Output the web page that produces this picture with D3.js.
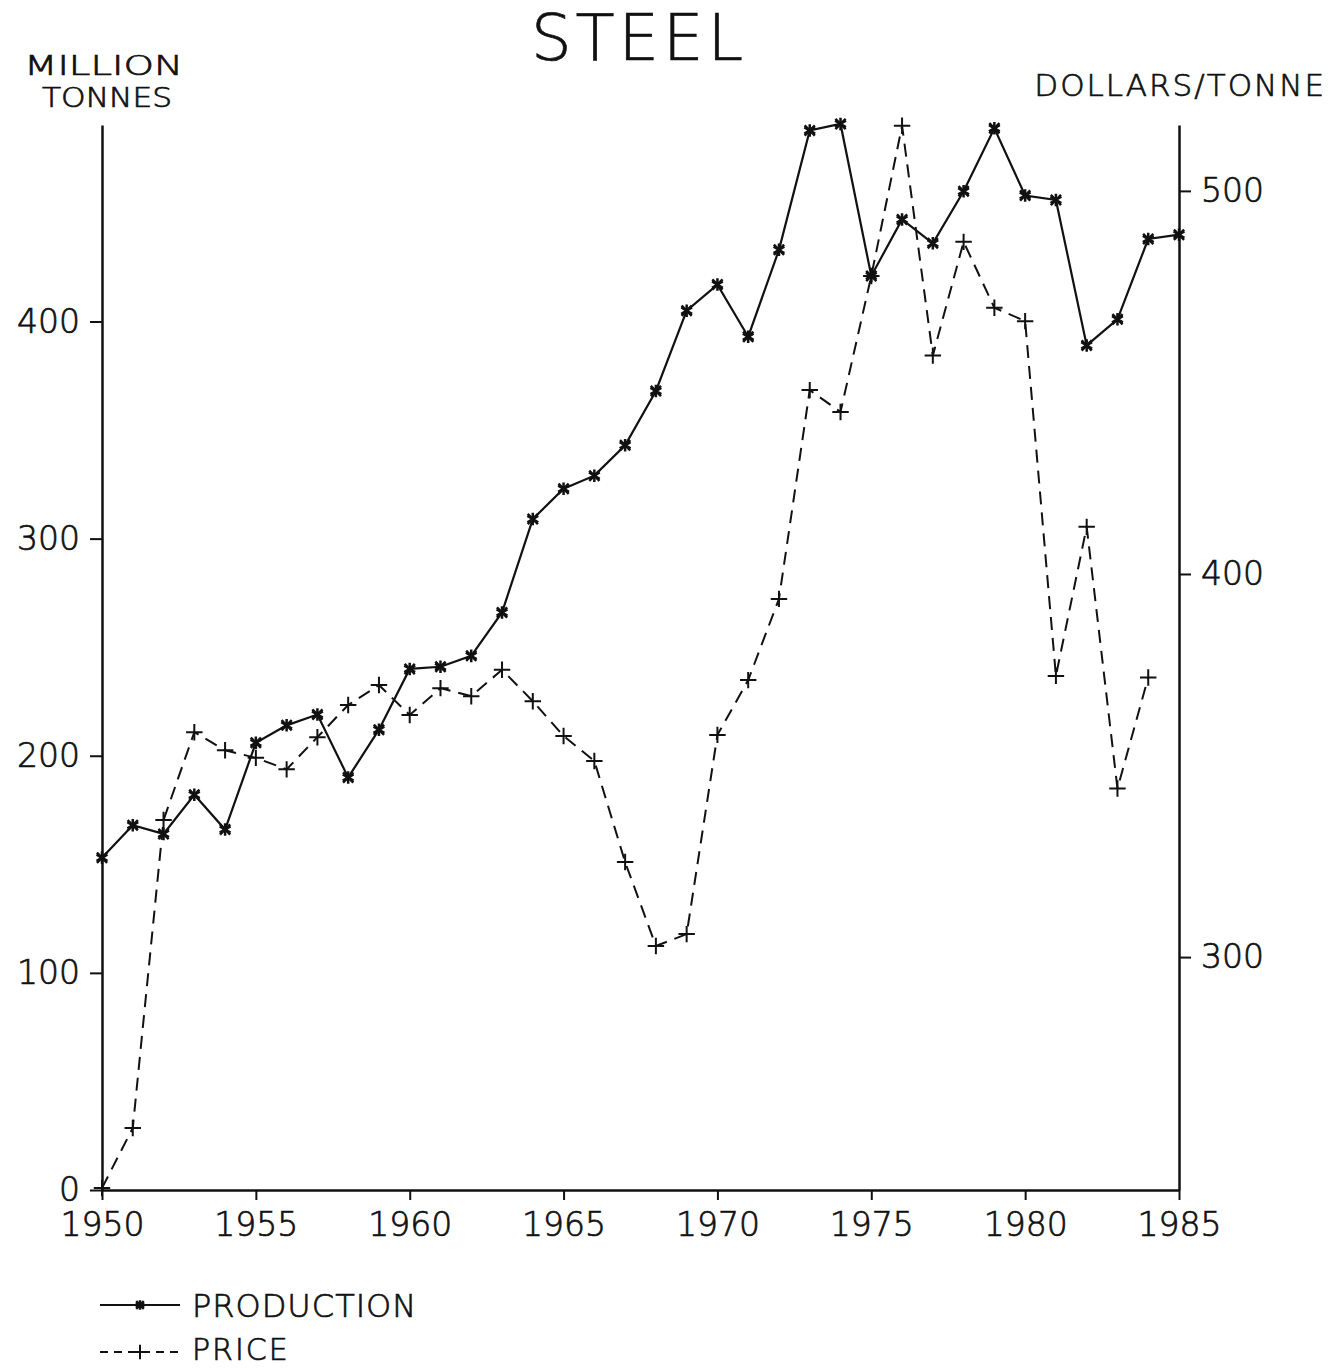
<!DOCTYPE html>
<html>
<head>
<meta charset="utf-8">
<script src="https://cdn.jsdelivr.net/npm/d3@7"></script>
<style>
    body{margin:0;background:#fff;}
    svg{display:block;}
    text{font-family:'DejaVu Sans',sans-serif;font-weight:200;fill:#111;stroke:#111;stroke-width:0.7px;}
</style>
</head>
<body>
<svg id="chart"></svg>
<script>

// years along the bottom
const years = d3.range(1950,1986)

// production, million tonnes (left axis)
const production = [153,168,164,182,166,206,214,219,190,212,
                    240,241,246,266,309,323,329,343,368,405,
                    417,393,433,488,491,421,447,436,460,489,
                    458,456,389,401,438,440]

// price, dollars/tonne (right axis), no value for 1985
const price = [239.7,255.4,335.8,358.7,354,352,349,357.4,365.8,371,
               363.2,370.2,368.1,375,366.8,357.7,351.2,324.8,302.9,306,
               358,372.3,393.5,448,442.3,477.8,517,457,486.7,469.5,
               466,373.4,412.3,344,373]

const leftTicks = [0,100,200,300,400]
const rightTicks = [300,400,500]
const yearTicks = [1950,1955,1960,1965,1970,1975,1980,1985]

const w = 1340
const h = 1368

const svg = d3.select('#chart')
    .attr('width',w)
    .attr('height',h)

//scales
const xScale = d3.scaleLinear()
    .domain([1950,1985])
    .range([102,1179])

const yLeft = d3.scaleLinear()
    .domain([0,490.5])
    .range([1190,125])

const yRight = d3.scaleLinear()
    .domain([239.2,517.2])
    .range([1190,125])

//axes
const styleAxis = (g) => {
    g.attr('font-family',null).attr('font-size',null)
    g.select('.domain').attr('stroke','#111').attr('stroke-width',2.5)
    g.selectAll('.tick line').attr('stroke','#111').attr('stroke-width',2)
    g.selectAll('.tick text').style('font-size','33px')
}

svg.append('g')
    .attr('transform','translate(0,1190)')
    .call(d3.axisBottom(xScale).tickValues(yearTicks).tickFormat(d3.format('d'))
        .tickSize(10).tickSizeOuter(0).tickPadding(13))
    .call(styleAxis)

svg.append('g')
    .attr('transform','translate(102,0)')
    .call(d3.axisLeft(yLeft).tickValues(leftTicks)
        .tickSize(12).tickSizeOuter(0).tickPadding(10))
    .call(styleAxis)

svg.append('g')
    .attr('transform','translate(1179,0)')
    .call(d3.axisRight(yRight).tickValues(rightTicks)
        .tickSize(12).tickSizeOuter(0).tickPadding(10))
    .call(styleAxis)

//titles
svg.append('text')
    .attr('x',639).attr('y',60)
    .attr('text-anchor','middle')
    .style('font-size','64px')
    .style('letter-spacing','4px')
    .text('STEEL')

// left unit label, stretched to the plotter widths
svg.append('text')
    .attr('x',24).attr('y',75)
    .attr('textLength',159).attr('lengthAdjust','spacingAndGlyphs')
    .style('font-size','27px')
    .text('MILLION')

svg.append('text')
    .attr('x',42).attr('y',107)
    .attr('textLength',130).attr('lengthAdjust','spacingAndGlyphs')
    .style('font-size','27px')
    .text('TONNES')

svg.append('text')
    .attr('x',1326).attr('y',96)
    .attr('text-anchor','end')
    .style('font-size','31px')
    .style('letter-spacing','2px')
    .text('DOLLARS/TONNE')

//lines
const prodLine = d3.line()
    .x((v,i)=> xScale(years[i]))
    .y(v => yLeft(v))

const priceLine = d3.line()
    .x((v,i)=> xScale(years[i]))
    .y(v => yRight(v))

svg.append('path')
    .datum(production)
    .attr('d',prodLine)
    .attr('fill','none')
    .attr('stroke','#111')
    .attr('stroke-width',2.2)

svg.append('path')
    .datum(price)
    .attr('d',priceLine)
    .attr('fill','none')
    .attr('stroke','#111')
    .attr('stroke-width',2)
    .attr('stroke-dasharray','13,8')

//markers
const star = d3.symbol().type(d3.symbolAsterisk).size(110)
const cross = d3.symbol().type(d3.symbolTimes).size(70)
const plus = d3.symbol().type(d3.symbolPlus).size(90)

const prodMarks = svg.selectAll('.prod')
    .data(production)
    .join('g')
    .attr('class','prod')
    .attr('transform',(v,i)=>`translate(${xScale(years[i])},${yLeft(v)})`)
prodMarks.append('path').attr('d',star).attr('fill','none').attr('stroke','#111').attr('stroke-width',2.5)
prodMarks.append('path').attr('d',cross).attr('fill','none').attr('stroke','#111').attr('stroke-width',2.5)

svg.selectAll('.price')
    .data(price)
    .join('path')
    .attr('class','price')
    .attr('transform',(v,i)=>`translate(${xScale(years[i])},${yRight(v)})`)
    .attr('d',plus)
    .attr('fill','none')
    .attr('stroke','#111')
    .attr('stroke-width',2)

//legend
const legend = svg.append('g')

legend.append('line')
    .attr('x1',100).attr('x2',180).attr('y1',1305).attr('y2',1305)
    .attr('stroke','#111').attr('stroke-width',2.2)
const lp = legend.append('g').attr('transform','translate(140,1305)')
lp.append('path').attr('d',d3.symbol().type(d3.symbolAsterisk).size(60)).attr('fill','none').attr('stroke','#111').attr('stroke-width',2.5)
lp.append('path').attr('d',d3.symbol().type(d3.symbolTimes).size(40)).attr('fill','none').attr('stroke','#111').attr('stroke-width',2.5)

legend.append('line')
    .attr('x1',100).attr('x2',180).attr('y1',1352).attr('y2',1352)
    .attr('stroke','#111').attr('stroke-width',2)
    .attr('stroke-dasharray','8,6')
legend.append('path')
    .attr('transform','translate(140,1352)')
    .attr('d',d3.symbol().type(d3.symbolPlus).size(70))
    .attr('fill','none').attr('stroke','#111').attr('stroke-width',2)

legend.append('text')
    .attr('x',192).attr('y',1317)
    .style('font-size','32px')
    .style('letter-spacing','1px')
    .text('PRODUCTION')

legend.append('text')
    .attr('x',192).attr('y',1360)
    .style('font-size','30px')
    .style('letter-spacing','2px')
    .text('PRICE')

</script>
</body>
</html>
